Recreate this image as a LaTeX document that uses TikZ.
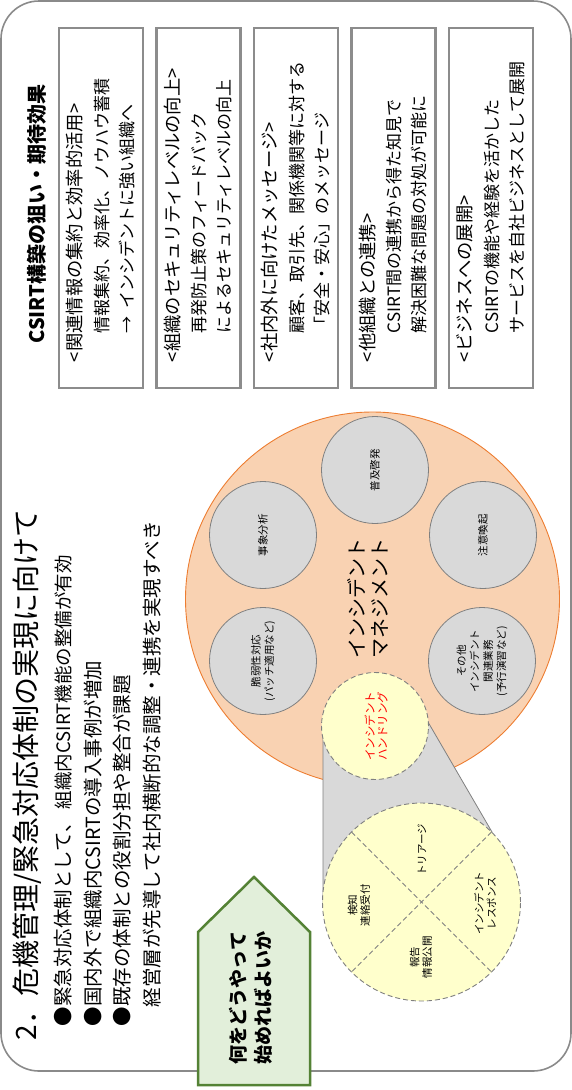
\documentclass[tikz,border=0pt]{standalone}
\usepackage{fontspec}
\setmainfont{Noto Sans CJK JP}
\definecolor{frameC}{HTML}{8A8A8A}
\definecolor{boxC}{HTML}{8C8C8C}
\definecolor{orangeF}{HTML}{F9D2B2}
\definecolor{orangeS}{HTML}{ED7D31}
\definecolor{grayF}{HTML}{D9D9D9}
\definecolor{grayS}{HTML}{808080}
\definecolor{yellowF}{HTML}{FFFFCC}
\definecolor{greenF}{HTML}{E2EFDA}
\definecolor{greenS}{HTML}{548235}
\begin{document}
\begin{tikzpicture}[x=1pt,y=-1pt,
  txt/.style={rotate=90,inner sep=0pt,outer sep=0pt,text=black},
  boxtext/.style={txt,anchor=west,font=\fontsize{17}{20}\selectfont},
  boxhead/.style={txt,anchor=west,font=\fontsize{18.3}{22}\selectfont},
  bullet/.style={txt,anchor=west,font=\fontsize{19.5}{22}\selectfont},
  effbox/.style={draw=boxC,line width=2.5pt,minimum width=84pt,minimum height=360pt,inner sep=0pt},
  graycirc/.style={circle,draw=grayS,fill=grayF,line width=0.8pt,minimum size=107pt,inner sep=0pt,outer sep=0pt,rotate=90,align=center,font=\fontsize{10.5}{13.3}\selectfont},
  yellowcirc/.style={circle,draw=grayS,fill=yellowF,line width=0.9pt,dash pattern=on 5pt off 3pt,inner sep=0pt,outer sep=0pt},
  quad/.style={txt,align=center,font=\fontsize{10.5}{12.5}\selectfont}
]
\useasboundingbox (0,0) rectangle (572,1090);
% outer frame
\draw[frameC,line width=1.6pt,rounded corners=38pt] (1,1) rectangle (571,1071);

% left title and bullets
\node[txt,anchor=west,font=\fontsize{28}{32}\selectfont] (title) at (27,1040) {2．危機管理/緊急対応体制の実現に向けて};
\node[bullet] (l1) at (63,1026) {●緊急対応体制として、\hspace{4pt}\fontsize{18.5}{20}\selectfont 組織内CSIRT機能の整備が有効};
\node[bullet] (l2) at (93,1026) {●国内外で組織内CSIRTの導入事例が増加};
\node[bullet] (l3) at (122,1026) {●既存の体制との役割分担や整合が課題};
\node[bullet] (l4) at (152,1007) {経営層が先導して社内横断的な調整・連携を実現すべき};

% right side
\node[txt,font=\bfseries\fontsize{20}{24}\selectfont] (effT) at (37,214) {CSIRT構築の狙い・期待効果};
\node[effbox] (b1) at (101,208) {};
\node[effbox] (b2) at (198.5,208) {};
\node[effbox] (b3) at (296,208) {};
\node[effbox] (b4) at (393.5,208) {};
\node[effbox] (b5) at (491,208) {};

\node[boxhead] (b1a) at (75,362) {<関連情報の集約と効率的活用>};
\node[boxtext] (b1b) at (102,333) {情報集約、効率化、ノウハウ蓄積};
\node[boxtext] (b1c) at (127,333) {→\ \ インシデントに強い組織へ};

\node[boxhead] (b2a) at (172.5,362) {<組織のセキュリティレベルの向上>};
\node[boxtext] (b2b) at (199.5,333) {再発防止策のフィードバック};
\node[boxtext] (b2c) at (224.5,333) {によるセキュリティレベルの向上};

\node[boxhead] (b3a) at (270,362) {<社内外に向けたメッセージ>};
\node[boxtext] (b3b) at (297,333) {顧客、取引先、関係機関等に対する};
\node[boxtext] (b3c) at (322,333) {「安全・安心」のメッセージ};

\node[boxhead] (b4a) at (367.5,362) {<他組織との連携>};
\node[boxtext] (b4b) at (394.5,333) {CSIRT間の連携から得た知見で};
\node[boxtext] (b4c) at (419.5,333) {解決困難な問題の対処が可能に};

\node[boxhead] (b5a) at (465,362) {<ビジネスへの展開>};
\node[boxtext] (b5b) at (492,333) {CSIRTの機能や経験を活かした};
\node[boxtext] (b5c) at (517,333) {サービスを自社ビジネスとして展開};

% incident management circle
\node[circle,draw=orangeS,fill=orangeF,line width=0.9pt,minimum size=374pt,inner sep=0pt,outer sep=0pt] (mgmt) at (372.5,599) {};
\node[txt,align=center,font=\fontsize{20}{23}\selectfont] (mgmtT) at (368,598) {インシデント\\マネジメント};
\node[graycirc] (c1) at (375,470) {普及啓発};
\node[graycirc] (c2) at (263,535) {事象分析};
\node[graycirc] (c3) at (483,535) {注意喚起};
\node[graycirc] (c4) at (263,661) {脆弱性対応\\(パッチ適用など)};
\node[graycirc] (c5) at (482,661) {その他\\インシデント\\関連業務\\(予行演習など)};

% zoom connector
\draw[grayS,fill=grayF,line width=0.8pt] (323,726) -- (428,722) -- (492,832) -- (323,902) -- cycle;

\node[yellowcirc,minimum size=107pt] (hs) at (375,726) {};
\node[txt,align=center,text=red,font=\fontsize{11.5}{12.5}\selectfont] (hsT) at (376,726) {インシデント\\ハンドリング};

\node[yellowcirc,minimum size=198pt] (hr) at (421.5,902) {};
\draw[grayS,line width=0.9pt,dash pattern=on 5pt off 3pt] (hr.45) -- (hr.225);
\draw[grayS,line width=0.9pt,dash pattern=on 5pt off 3pt] (hr.135) -- (hr.315);
\node[quad] (q1) at (422,850) {トリアージ};
\node[quad] (q2) at (359,905) {検知\\連絡受付};
\node[quad] (q3) at (421,957) {報告\\情報公開};
\node[quad] (q4) at (485,903) {インシデント\\レスポンス};

% green pentagon
\draw[greenS,fill=greenF,line width=2.5pt,line join=miter] (198,932) -- (254,877) -- (310,932) -- (310,1085) -- (198,1085) -- cycle;
\node[txt,align=center,font=\bfseries\fontsize{19}{25}\selectfont] (start) at (251,998) {何をどうやって\\始めればよいか};
\end{tikzpicture}
\end{document}
